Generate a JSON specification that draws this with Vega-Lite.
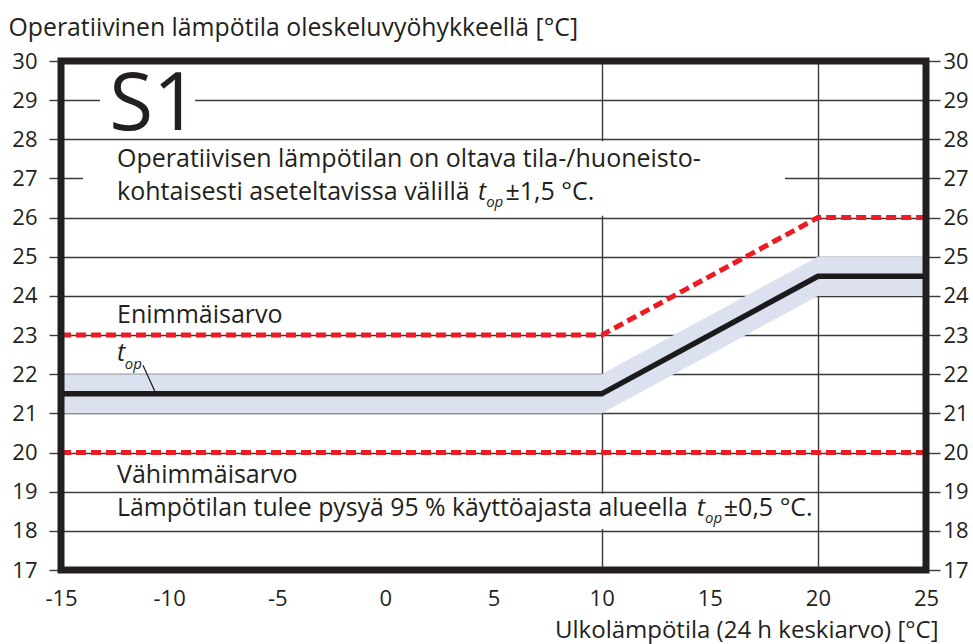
{
  "$schema": "https://vega.github.io/schema/vega-lite/v6.json",
  "width": 865,
  "height": 509,
  "autosize": {"type": "none"},
  "padding": {"left": 61, "top": 61, "right": 47, "bottom": 74},
  "background": "white",
  "config": {
    "view": {"stroke": null},
    "font": "Open Sans",
    "text": {"font": "Open Sans", "color": "#231f20"}
  },
  "datasets": {
    "profile": [
      {"x": -15, "top": 21.5, "lo": 21, "hi": 22, "upper": 23, "lower": 20},
      {"x": 10, "top": 21.5, "lo": 21, "hi": 22, "upper": 23, "lower": 20},
      {"x": 20, "top": 24.5, "lo": 24, "hi": 25, "upper": 26, "lower": 20},
      {"x": 25, "top": 24.5, "lo": 24, "hi": 25, "upper": 26, "lower": 20}
    ]
  },
  "layer": [
    {
      "data": {"name": "profile"},
      "mark": {"type": "area", "color": "#dbe1ee", "opacity": 1},
      "encoding": {
        "x": {"field": "x", "type": "quantitative",
          "scale": {"domain": [-15, 25], "nice": false, "zero": false},
          "axis": {"values": [-15, -10, -5, 0, 5, 10, 15, 20, 25], "grid": false, "ticks": false, "domain": false,
            "labelExpr": "'' + datum.value",
            "labelFont": "Open Sans", "labelFontSize": 22, "labelColor": "#231f20", "labelPadding": 18,
            "labelFlush": false, "labelOverlap": false,
            "title": "Ulkolämpötila (24 h keskiarvo) [°C]", "titleFont": "Open Sans", "titleFontSize": 24,
            "titleFontWeight": "normal", "titleColor": "#231f20", "titleAnchor": "end", "titleAlign": "right",
            "titleBaseline": "alphabetic", "titleX": 877, "titleY": 67}},
        "y": {"field": "lo", "type": "quantitative",
          "scale": {"domain": [17, 30], "nice": false, "zero": false},
          "axis": {"orient": "left", "values": [17,18,19,20,21,22,23,24,25,26,27,28,29,30], "grid": true,
            "gridColor": "#3a3a3a", "gridWidth": 1.4, "gridOpacity": 1,
            "ticks": true, "tickSize": 12, "tickColor": "#3a3a3a", "tickWidth": 1.4, "domain": false,
            "labelFont": "Open Sans", "labelFontSize": 22, "labelColor": "#231f20", "labelPadding": 12,
            "labelFlush": false, "labelOverlap": false,
            "title": "Operatiivinen lämpötila oleskeluvyöhykkeellä [°C]", "titleFont": "Open Sans", "titleFontSize": 24.8,
            "titleFontWeight": "normal", "titleColor": "#231f20", "titleAngle": 0, "titleAlign": "left",
            "titleBaseline": "alphabetic", "titleAnchor": "start", "titleX": -53, "titleY": -26}},
        "y2": {"field": "hi"}
      }
    },
    {
      "data": {"values": [{"k": "s1"}]},
      "mark": {"type": "rect", "color": "white"},
      "encoding": {
        "x": {"datum": -13.2, "type": "quantitative", "axis": null},
        "x2": {"datum": -8.8},
        "y": {"datum": 28.1, "type": "quantitative", "axis": null},
        "y2": {"datum": 29.9}
      }
    },
    {
      "data": {"values": [{"k": "para"}]},
      "mark": {"type": "rect", "color": "white"},
      "encoding": {
        "x": {"datum": -13.98, "type": "quantitative", "axis": null},
        "x2": {"datum": 18.48},
        "y": {"datum": 26.05, "type": "quantitative", "axis": null},
        "y2": {"datum": 27.95}
      }
    },
    {
      "data": {"values": [{"k": "bottom"}]},
      "mark": {"type": "rect", "color": "white"},
      "encoding": {
        "x": {"datum": -15, "type": "quantitative", "axis": null},
        "x2": {"datum": 19.9},
        "y": {"datum": 18.05, "type": "quantitative", "axis": null},
        "y2": {"datum": 18.95}
      }
    },
    {
      "data": {"name": "profile"},
      "mark": {"type": "line", "color": "#ed1c24", "strokeWidth": 5, "strokeDash": [10, 5], "strokeCap": "butt"},
      "encoding": {
        "x": {"field": "x", "type": "quantitative", "axis": {"values": [10, 20], "grid": true, "gridColor": "#3a3a3a", "gridWidth": 1.4, "gridOpacity": 1, "labels": false, "ticks": false, "domain": false, "title": null}},
        "y": {"field": "upper", "type": "quantitative", "axis": null}
      }
    },
    {
      "data": {"name": "profile"},
      "mark": {"type": "line", "color": "#ed1c24", "strokeWidth": 5, "strokeDash": [10, 5], "strokeCap": "butt"},
      "encoding": {
        "x": {"field": "x", "type": "quantitative", "axis": null},
        "y": {"field": "lower", "type": "quantitative", "axis": null}
      }
    },
    {
      "data": {"name": "profile"},
      "mark": {"type": "line", "color": "#1d1a1b", "strokeWidth": 5.5, "strokeJoin": "miter"},
      "encoding": {
        "x": {"field": "x", "type": "quantitative", "axis": null},
        "y": {"field": "top", "type": "quantitative",
          "axis": {"orient": "right", "values": [17,18,19,20,21,22,23,24,25,26,27,28,29,30], "grid": false,
            "ticks": true, "tickSize": 14, "tickColor": "#3a3a3a", "tickWidth": 1.4, "domain": false,
            "labelFont": "Open Sans", "labelFontSize": 22, "labelColor": "#231f20", "labelPadding": 3,
            "labelFlush": false, "labelOverlap": false, "title": null}}
      }
    },
    {
      "data": {"values": [{"k": "leader"}]},
      "mark": {"type": "rule", "color": "#231f20", "strokeWidth": 1.3},
      "encoding": {
        "x": {"datum": -11.21, "type": "quantitative", "axis": null},
        "x2": {"datum": -10.65},
        "y": {"datum": 22.23, "type": "quantitative", "axis": null},
        "y2": {"datum": 21.55}
      }
    },
    {
      "data": {"values": [{"t": "S1"}]},
      "mark": {"type": "text", "align": "center", "baseline": "alphabetic", "fontSize": 80},
      "encoding": {
        "text": {"field": "t"},
        "x": {"datum": -10.7, "type": "quantitative", "axis": null},
        "y": {"datum": 28.24, "type": "quantitative", "axis": null}
      }
    },
    {
      "data": {"values": [{"t": "Operatiivisen lämpötilan on oltava tila-/huoneisto-"}]},
      "mark": {"type": "text", "align": "left", "baseline": "alphabetic", "fontSize": 25},
      "encoding": {
        "text": {"field": "t"},
        "x": {"datum": -12.41, "type": "quantitative", "axis": null},
        "y": {"datum": 27.29, "type": "quantitative", "axis": null}
      }
    },
    {
      "data": {"values": [{"t": "kohtaisesti aseteltavissa välillä"}]},
      "mark": {"type": "text", "align": "left", "baseline": "alphabetic", "fontSize": 25},
      "encoding": {
        "text": {"field": "t"},
        "x": {"datum": -12.41, "type": "quantitative", "axis": null},
        "y": {"datum": 26.45, "type": "quantitative", "axis": null}
      }
    },
    {
      "data": {"values": [{"t": "t"}]},
      "mark": {"type": "text", "align": "left", "baseline": "alphabetic", "fontSize": 25, "fontStyle": "italic"},
      "encoding": {
        "text": {"field": "t"},
        "x": {"datum": 4.28, "type": "quantitative", "axis": null},
        "y": {"datum": 26.45, "type": "quantitative", "axis": null}
      }
    },
    {
      "data": {"values": [{"t": "op"}]},
      "mark": {"type": "text", "align": "left", "baseline": "alphabetic", "fontSize": 15, "fontStyle": "italic"},
      "encoding": {
        "text": {"field": "t"},
        "x": {"datum": 4.66, "type": "quantitative", "axis": null},
        "y": {"datum": 26.27, "type": "quantitative", "axis": null}
      }
    },
    {
      "data": {"values": [{"t": "±1,5 °C."}]},
      "mark": {"type": "text", "align": "left", "baseline": "alphabetic", "fontSize": 25},
      "encoding": {
        "text": {"field": "t"},
        "x": {"datum": 5.55, "type": "quantitative", "axis": null},
        "y": {"datum": 26.45, "type": "quantitative", "axis": null}
      }
    },
    {
      "data": {"values": [{"t": "Enimmäisarvo"}]},
      "mark": {"type": "text", "align": "left", "baseline": "alphabetic", "fontSize": 25},
      "encoding": {
        "text": {"field": "t"},
        "x": {"datum": -12.41, "type": "quantitative", "axis": null},
        "y": {"datum": 23.32, "type": "quantitative", "axis": null}
      }
    },
    {
      "data": {"values": [{"t": "t"}]},
      "mark": {"type": "text", "align": "left", "baseline": "alphabetic", "fontSize": 25, "fontStyle": "italic"},
      "encoding": {
        "text": {"field": "t"},
        "x": {"datum": -12.41, "type": "quantitative", "axis": null},
        "y": {"datum": 22.34, "type": "quantitative", "axis": null}
      }
    },
    {
      "data": {"values": [{"t": "op"}]},
      "mark": {"type": "text", "align": "left", "baseline": "alphabetic", "fontSize": 15, "fontStyle": "italic"},
      "encoding": {
        "text": {"field": "t"},
        "x": {"datum": -12.05, "type": "quantitative", "axis": null},
        "y": {"datum": 22.13, "type": "quantitative", "axis": null}
      }
    },
    {
      "data": {"values": [{"t": "Vähimmäisarvo"}]},
      "mark": {"type": "text", "align": "left", "baseline": "alphabetic", "fontSize": 25},
      "encoding": {
        "text": {"field": "t"},
        "x": {"datum": -12.41, "type": "quantitative", "axis": null},
        "y": {"datum": 19.22, "type": "quantitative", "axis": null}
      }
    },
    {
      "data": {"values": [{"t": "Lämpötilan tulee pysyä 95 % käyttöajasta alueella"}]},
      "mark": {"type": "text", "align": "left", "baseline": "alphabetic", "fontSize": 24.8},
      "encoding": {
        "text": {"field": "t"},
        "x": {"datum": -12.41, "type": "quantitative", "axis": null},
        "y": {"datum": 18.38, "type": "quantitative", "axis": null}
      }
    },
    {
      "data": {"values": [{"t": "t"}]},
      "mark": {"type": "text", "align": "left", "baseline": "alphabetic", "fontSize": 25, "fontStyle": "italic"},
      "encoding": {
        "text": {"field": "t"},
        "x": {"datum": 14.4, "type": "quantitative", "axis": null},
        "y": {"datum": 18.38, "type": "quantitative", "axis": null}
      }
    },
    {
      "data": {"values": [{"t": "op"}]},
      "mark": {"type": "text", "align": "left", "baseline": "alphabetic", "fontSize": 15, "fontStyle": "italic"},
      "encoding": {
        "text": {"field": "t"},
        "x": {"datum": 14.78, "type": "quantitative", "axis": null},
        "y": {"datum": 18.2, "type": "quantitative", "axis": null}
      }
    },
    {
      "data": {"values": [{"t": "±0,5 °C."}]},
      "mark": {"type": "text", "align": "left", "baseline": "alphabetic", "fontSize": 25},
      "encoding": {
        "text": {"field": "t"},
        "x": {"datum": 15.65, "type": "quantitative", "axis": null},
        "y": {"datum": 18.38, "type": "quantitative", "axis": null}
      }
    },
    {
      "data": {"values": [{"k": "frame"}]},
      "mark": {"type": "rect", "fill": null, "fillOpacity": 0, "stroke": "#231f20", "strokeWidth": 7},
      "encoding": {
        "x": {"datum": -15, "type": "quantitative", "axis": null},
        "x2": {"datum": 25},
        "y": {"datum": 17, "type": "quantitative", "axis": null},
        "y2": {"datum": 30}
      }
    }
  ],
  "resolve": {"axis": {"x": "independent", "y": "independent"}}
}
